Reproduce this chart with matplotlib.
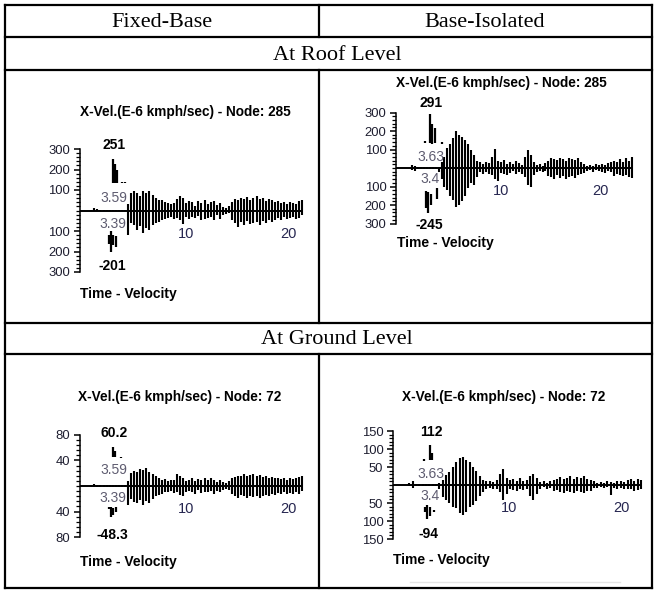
import numpy as np
import matplotlib
matplotlib.use("Agg")
import matplotlib.pyplot as plt
from matplotlib.lines import Line2D

W, H = 658, 590
SANS = ["Liberation Sans", "DejaVu Sans"]
SERIF = ["Liberation Serif", "DejaVu Serif"]

# velocity records, sampled every 0.3 s starting at 1.5 s (upper / lower stroke per sample)
T_START = 1.5
DT = 0.3

fixed_roof_hi = [3, 10, 5, 4, 4, 4, 4, 4, 4, 4,
                 4, 4, 30, 85, 95, 85, 70, 95, 85, 95,
                 75, 60, 52, 50, 40, 35, 30, 36, 55, 70,
                 60, 35, 45, 40, 20, 45, 35, 50, 30, 40,
                 45, 25, 35, 15, 10, 20, 40, 55, 50, 60,
                 55, 65, 50, 60, 70, 55, 60, 45, 55, 50,
                 40, 45, 35, 40, 30, 40, 35, 30, 45, 50]
fixed_roof_lo = [-3, -2, -3, -4, -4, -4, -4, -4, -4, -4,
                 -4, -4, -120, -60, -70, -95, -75, -110, -85, -95,
                 -70, -60, -55, -45, -40, -35, -30, -40, -35, -45,
                 -65, -30, -40, -30, -35, -25, -45, -40, -35, -30,
                 -45, -20, -40, -20, -15, -10, -45, -60, -80, -55,
                 -70, -50, -65, -60, -55, -70, -50, -60, -45, -55,
                 -45, -35, -45, -30, -40, -35, -30, -40, -35, -20]
fixed_roof_spike_t = [3.2, 3.39, 3.59, 3.65, 3.8, 3.95, 4.05, 4.5, 4.85]
fixed_roof_spike_hi = [-120, -100, 251, -120, 225, -125, 200, 140, 140]
fixed_roof_spike_lo = [-165, -201, 133, -170, 135, -180, 135, 134, 134]
fixed_roof_peak = (3.59, 251)
fixed_roof_trough = (3.39, -201)

iso_roof_hi = [0, 15, 10, 5, 4, 5, 4, 5, 4, 5,
               6, 30, 60, 110, 130, 160, 200, 180, 165, 150,
               130, 100, 70, 40, 30, 20, 35, 25, 60, 105,
               40, 30, 45, 20, 35, 20, 40, 25, 15, 60,
               95, 70, 30, 15, 20, 10, 25, 40, 55, 50,
               45, 55, 50, 40, 55, 50, 45, 55, 30, 20,
               10, 15, 10, 20, 15, 20, 15, 25, 30, 40,
               35, 50, 30, 55, 40, 60]
iso_roof_lo = [0, -10, -15, -5, -4, -5, -4, -5, -4, -5,
               -20, -60, -100, -120, -150, -175, -210, -200, -180, -150,
               -110, -80, -90, -50, -20, -30, -20, -35, -40, -60,
               -70, -25, -30, -40, -25, -15, -35, -20, -30, -50,
               -90, -100, -40, -20, -15, -20, -15, -45, -50, -60,
               -40, -55, -45, -60, -50, -45, -55, -40, -35, -25,
               -15, -10, -20, -10, -15, -20, -25, -15, -20, -45,
               -30, -40, -45, -40, -50, -55]
iso_roof_spike_t = [3.1, 3.2, 3.4, 3.63, 3.75, 3.85, 4.1, 4.3, 4.85]
iso_roof_spike_hi = [145, -125, -130, 291, -140, 240, 215, -110, 140]
iso_roof_spike_lo = [135, -215, -245, 135, -200, 130, 135, -165, 132]
iso_roof_peak = (3.63, 291)
iso_roof_trough = (3.4, -245)

fixed_ground_hi = [1, 3, 1, 1, 1, 1, 1, 1, 1, 1,
                   1, 1, 8, 20, 24, 22, 27, 25, 28, 22,
                   18, 16, 12, 10, 11, 8, 10, 9, 18, 16,
                   12, 8, 10, 12, 8, 11, 9, 12, 10, 12,
                   9, 7, 10, 6, 5, 8, 12, 14, 16, 15,
                   18, 16, 17, 18, 15, 17, 14, 16, 13, 14,
                   12, 13, 11, 12, 10, 13, 11, 12, 14, 15]
fixed_ground_lo = [-1, -1, -1, -1, -1, -1, -1, -1, -1, -1,
                   -1, -1, -30, -20, -25, -26, -22, -30, -24, -26,
                   -20, -15, -14, -12, -9, -10, -8, -11, -10, -14,
                   -16, -10, -8, -9, -12, -7, -11, -9, -10, -8,
                   -12, -8, -9, -7, -5, -6, -13, -15, -18, -14,
                   -16, -18, -15, -17, -16, -18, -15, -14, -15, -12,
                   -14, -11, -13, -10, -12, -11, -12, -10, -12, -8]
fixed_ground_spike_t = [3.2, 3.39, 3.59, 3.65, 3.8, 3.95, 4.4]
fixed_ground_spike_hi = [-33, -33, 60.2, -35, 55, -33, 45]
fixed_ground_spike_lo = [-36, -48.3, 46, -45, 46, -40, 43]
fixed_ground_peak = (3.59, 60.2)
fixed_ground_trough = (3.39, -48.3)

iso_ground_hi = [0, 6, 10, 3, 2, 2, 2, 2, 2, 2,
                 5, 14, 28, 37, 51, 65, 74, 78, 70, 65,
                 50, 40, 25, 15, 10, 12, 8, 15, 30, 45,
                 20, 15, 18, 12, 20, 10, 15, 25, 30, 20,
                 8, 10, 6, 10, 15, 18, 22, 18, 20, 24,
                 18, 22, 20, 24, 18, 15, 10, 6, 8, 5,
                 10, 8, 6, 10, 12, 8, 14, 16, 12, 18,
                 14]
iso_ground_lo = [0, -3, -8, -3, -2, -2, -2, -2, -2, -2,
                 -10, -32, -42, -51, -60, -65, -79, -83, -75, -62,
                 -55, -45, -30, -20, -12, -8, -12, -10, -20, -42,
                 -25, -10, -15, -18, -12, -15, -10, -30, -42, -25,
                 -10, -6, -10, -8, -18, -15, -20, -22, -18, -20,
                 -22, -18, -20, -22, -16, -18, -8, -8, -5, -8,
                 -6, -28, -8, -10, -8, -12, -10, -12, -16, -14,
                 -10]
iso_ground_spike_t = [3.1, 3.2, 3.4, 3.63, 3.7, 3.85, 4.0]
iso_ground_spike_hi = [72, -60, -55, 112, -60, 88, -70]
iso_ground_spike_lo = [68, -75, -94, 69, -85, 69, -75]
iso_ground_peak = (3.63, 112)
iso_ground_trough = (3.4, -94)

x_tick_values = [10, 20]
col_titles = ["Fixed-Base", "Base-Isolated"]
row_titles = ["At Roof Level", "At Ground Level"]
roof_title = "X-Vel.(E-6 kmph/sec) - Node: 285"
ground_title = "X-Vel.(E-6 kmph/sec) - Node: 72"

fig = plt.figure(figsize=(W / 100, H / 100), dpi=100)


def fx(x):
    return x / W


def fy(y):
    return 1 - y / H


def hline(y, x0, x1, **kw):
    fig.add_artist(Line2D([fx(x0), fx(x1)], [fy(y), fy(y)], transform=fig.transFigure,
                          color="black", lw=1.6, **kw))


def vline(x, y0, y1, **kw):
    fig.add_artist(Line2D([fx(x), fx(x)], [fy(y0), fy(y1)], transform=fig.transFigure,
                          color="black", lw=1.6, **kw))


# table frame
for y in [5, 37, 70, 323, 354, 588]:
    hline(y, 5, 652)
vline(5, 5, 588)
vline(652, 5, 588)
vline(319, 5, 37)
vline(319, 70, 323)
vline(319, 354, 588)

fig.text(fx(162), fy(27), col_titles[0], ha="center", va="baseline", family=SERIF, fontsize=16)
fig.text(fx(485), fy(27), col_titles[1], ha="center", va="baseline", family=SERIF, fontsize=16)
fig.text(fx(337), fy(60), row_titles[0], ha="center", va="baseline", family=SERIF, fontsize=16)
fig.text(fx(337), fy(344), row_titles[1], ha="center", va="baseline", family=SERIF, fontsize=16)


def draw_panel(hi, lo, sp_t, sp_hi, sp_lo, peak, trough, title, lay):
    t = T_START + DT * np.arange(len(hi))
    left, right = lay["axis"], lay["right"]
    zero, ppu, ymax = lay["zero"], lay["ppu"], lay["ymax"]
    top = zero - ymax * ppu - 3
    bottom = zero + ymax * ppu + 3
    ax = fig.add_axes([fx(left), fy(bottom), (right - left) / W, (bottom - top) / H])
    ax.set_xlim((left - lay["t0"]) / lay["pps"], (right - lay["t0"]) / lay["pps"])
    ax.set_ylim((zero - bottom) / ppu, (zero - top) / ppu)
    ax.patch.set_visible(False)
    for s in ["top", "right", "bottom"]:
        ax.spines[s].set_visible(False)
    ax.spines["left"].set_bounds(-ymax, ymax)
    ax.spines["left"].set_linewidth(1.1)
    majors = [v for v in np.arange(-ymax, ymax + 1, lay["step"]) if v != 0]
    ax.set_yticks(majors)
    ax.set_yticklabels([f"{abs(v):g}" for v in majors], family=SANS)
    ax.set_yticks(np.arange(-ymax, ymax + 1, lay["minor"]), minor=True)
    ax.tick_params(axis="y", which="major", length=4.5, width=1.1, pad=2.5,
                   labelsize=9.4, labelcolor="#1e1e30")
    ax.tick_params(axis="y", which="minor", length=2.8, width=0.9)
    ax.set_xticks([])

    ax.hlines(0, ax.get_xlim()[0], t[-1], color="black", lw=1.4)
    ax.vlines(t, lo, hi, color="black", lw=1.5)
    ax.vlines(sp_t, sp_lo, sp_hi, color="black", lw=1.6)

    k = 0.72  # px -> pt
    for v in x_tick_values:
        ax.annotate(f"{v}", (v, 0), xytext=(0, -lay["xlab"] * k), textcoords="offset points",
                    ha="left", va="center", fontsize=10.5, color="#262650", family=SANS)
    ax.annotate(f"{peak[0]:g}", (peak[0], 0), xytext=(1, lay["tmax"] * k), textcoords="offset points",
                ha="center", va="center", fontsize=10, color="#5e5c70", family=SANS)
    ax.annotate(f"{trough[0]:g}", (peak[0], 0), xytext=(0, -lay["tmin"] * k), textcoords="offset points",
                ha="center", va="center", fontsize=10, color="#5e5c70", family=SANS)
    ax.annotate(f"{peak[1]:g}", peak, xytext=(1, lay["pk"] * k), textcoords="offset points",
                ha="center", va="center", fontsize=10, fontweight="bold", family=SANS)
    ax.annotate(f"{trough[1]:g}", trough, xytext=(1, -lay["tr"] * k), textcoords="offset points",
                ha="center", va="center", fontsize=10, fontweight="bold", family=SANS)

    fig.text(fx(lay["title"][0]), fy(lay["title"][1]), title, ha="center", va="center",
             fontsize=9.8, fontweight="bold", family=SANS)
    fig.text(fx(lay["tv"][0]), fy(lay["tv"][1]), "Time - Velocity", ha="left", va="center",
             fontsize=10, fontweight="bold", family=SANS)


draw_panel(fixed_roof_hi, fixed_roof_lo, fixed_roof_spike_t, fixed_roof_spike_hi, fixed_roof_spike_lo,
           fixed_roof_peak, fixed_roof_trough, roof_title,
           dict(axis=79.5, t0=76, pps=10.2, zero=210.5, ppu=0.205, ymax=300, step=100, minor=20,
                right=306, title=(185, 112), tv=(80, 294), xlab=24, tmax=13, tmin=13.5, pk=14, tr=14))
draw_panel(iso_roof_hi, iso_roof_lo, iso_roof_spike_t, iso_roof_spike_hi, iso_roof_spike_lo,
           iso_roof_peak, iso_roof_trough, roof_title,
           dict(axis=396, t0=394, pps=9.9, zero=168, ppu=0.185, ymax=300, step=100, minor=20,
                right=637, title=(501, 83), tv=(397, 243), xlab=23, tmax=11, tmin=11, pk=11, tr=12))
draw_panel(fixed_ground_hi, fixed_ground_lo, fixed_ground_spike_t, fixed_ground_spike_hi,
           fixed_ground_spike_lo, fixed_ground_peak, fixed_ground_trough, ground_title,
           dict(axis=80, t0=76, pps=10.2, zero=486, ppu=0.64, ymax=80, step=40, minor=8,
                right=306, title=(180, 397), tv=(80, 562), xlab=23, tmax=16, tmin=12, pk=14, tr=18))
draw_panel(iso_ground_hi, iso_ground_lo, iso_ground_spike_t, iso_ground_spike_hi, iso_ground_spike_lo,
           iso_ground_peak, iso_ground_trough, ground_title,
           dict(axis=393, t0=389, pps=11.2, zero=485, ppu=0.36, ymax=150, step=50, minor=10,
                right=648, title=(504, 397), tv=(393, 560), xlab=23, tmax=11, tmin=11, pk=13, tr=15))

# faint rule under the last panel
fig.add_artist(Line2D([fx(410), fx(620)], [fy(582), fy(582)], transform=fig.transFigure,
                      color="#e4e4e4", lw=1.0))

fig.savefig("out.png", dpi=100)
